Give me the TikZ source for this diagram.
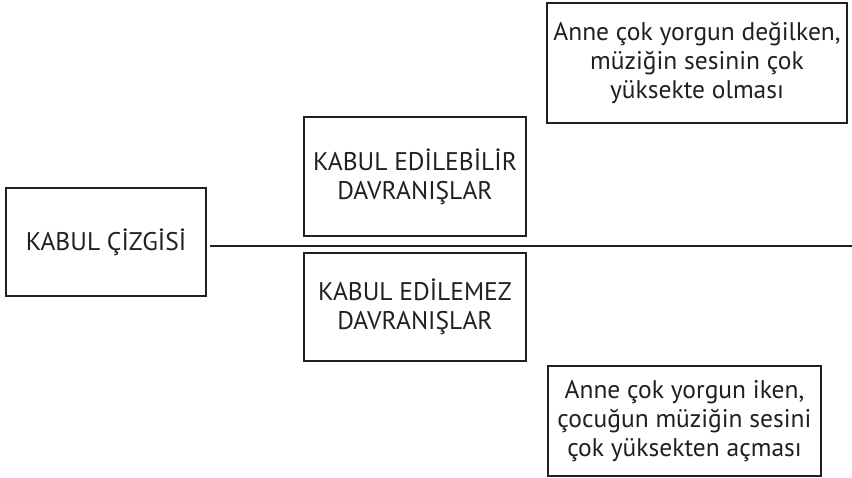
\documentclass[tikz,border=0pt]{standalone}
\usepackage{fontspec}
\setmainfont{PT Sans}
\definecolor{koyu}{HTML}{231F20}

\begin{document}
\begin{tikzpicture}
      [x=1pt,y=-1pt
      ,kutu/.style={draw=koyu,line width=2pt,text=koyu,align=center,inner sep=0pt,font=\fontsize{25.5}{29}\selectfont}
      ,sinir/.style={draw=koyu,line width=2.2pt}
      ]
        \useasboundingbox (0,0) rectangle (852,478);

        \node[kutu,minimum width=200pt,minimum height=108pt] (cizgi) at (106,242) {KABUL ÇİZGİSİ};
        \node[kutu,minimum width=222pt,minimum height=119pt] (edilebilir) at (415,176.5) {KABUL EDİLEBİLİR\\DAVRANIŞLAR};
        \node[kutu,minimum width=222pt,minimum height=108pt] (edilemez) at (415,307) {KABUL EDİLEMEZ\\DAVRANIŞLAR};
        \node[kutu,minimum width=300pt,minimum height=120pt] (ornekust) at (697,63) {Anne çok yorgun değilken,\\müziğin sesinin çok\\yüksekte olması};
        \node[kutu,minimum width=273pt,minimum height=110pt] (ornekalt) at (684.5,421) {Anne çok yorgun iken,\\çocuğun müziğin sesini\\çok yüksekten açması};

        \coordinate (sag) at (852,246);
        \draw[sinir] ([xshift=3pt]cizgi.east |- sag) -- (sag);

      \end{tikzpicture}
\end{document}
